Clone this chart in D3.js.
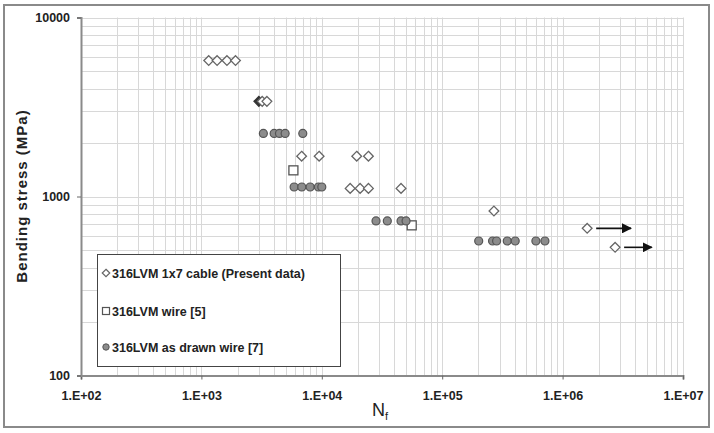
<!DOCTYPE html>
<html lang="en">
<head>
<meta charset="UTF-8">
<title>Bending stress vs Nf</title>
<script src="https://cdn.jsdelivr.net/npm/d3@7"></script>
<style>
  body { margin: 0; background: #fff; }
  text { font-family: Arial, "Liberation Sans", sans-serif; }
</style>
</head>
<body>
<script>
// 316LVM 1x7 cable (present data) - diamonds
const cableN = [1150, 1350, 1630, 1920, 3200, 3500, 6800, 9500, 19500, 24400,
                17200, 20800, 24400, 45500, 269000, 1600000, 2730000];
const cableS = [5750, 5750, 5750, 5750, 3400, 3400, 1680, 1680, 1680, 1680,
                1110, 1110, 1110, 1110, 830, 664, 520];
// the half-hidden dark diamond next to the 3400 MPa pair
const cableDarkN = [3000];
const cableDarkS = [3400];
// 316LVM wire [5] - squares
const wireN = [5810, 55800];
const wireS = [1400, 690];
// 316LVM as drawn wire [7] - grey circles
const drawnN = [3270, 4020, 4450, 4960, 6950, 5890, 6820, 8000, 9370, 10000,
                28200, 35000, 45500, 50100, 201000, 262000, 283000, 347000, 404000, 600000, 713000];
const drawnS = [2250, 2250, 2250, 2250, 2250, 1130, 1130, 1130, 1130, 1130,
                730, 730, 730, 730, 564, 564, 564, 564, 564, 564, 564];
// run-out arrows (from N to N, at stress)
const arrowFrom = [1600000, 2730000];
const arrowTo = [3700000, 5500000];
const arrowS = [664, 520];

const xTicks = [1e2, 1e3, 1e4, 1e5, 1e6, 1e7];
const yTicks = [100, 1000, 10000];
const legendLabels = ["316LVM 1x7 cable (Present data)", "316LVM wire [5]", "316LVM as drawn wire [7]"];

const W = 714, H = 433;
const svg = d3.select("body").append("svg").attr("width", W).attr("height", H);

// outer frame
svg.append("rect").attr("x", 4).attr("y", 5).attr("width", 705).attr("height", 422)
  .attr("fill", "#fff").attr("stroke", "#8a8a8a").attr("stroke-width", 2);

const x = d3.scaleLog().domain([1e2, 1e7]).range([81, 683]);
const y = d3.scaleLog().domain([100, 10000]).range([375.5, 17.5]);

// grid at every minor step
const gx = [], gy = [];
for (let d = 100; d < 1e7; d *= 10) for (let k = 1; k <= 9; k++) gx.push(d * k);
gx.push(1e7);
for (let d = 100; d < 10000; d *= 10) for (let k = 1; k <= 9; k++) gy.push(d * k);
gy.push(10000);

const grid = svg.append("g").attr("stroke", "#d8d8d8").attr("stroke-width", 1);
grid.selectAll("line.v").data(gx).enter().append("line")
  .attr("x1", d => Math.round(x(d)) + 0.5).attr("x2", d => Math.round(x(d)) + 0.5)
  .attr("y1", y(10000)).attr("y2", y(100));
grid.selectAll("line.h").data(gy).enter().append("line")
  .attr("y1", d => Math.round(y(d)) + 0.5).attr("y2", d => Math.round(y(d)) + 0.5)
  .attr("x1", x(1e2)).attr("x2", x(1e7));

// axes
const xAxis = d3.axisBottom(x).tickValues(xTicks).tickSize(4).tickPadding(12)
  .tickFormat(d => "1.E+" + String(Math.round(Math.log10(d))).padStart(2, "0"));
const yAxis = d3.axisLeft(y).tickValues(yTicks).tickSize(4).tickPadding(7).tickFormat(d3.format("d"));

const gX = svg.append("g").attr("transform", `translate(0,${y(100)})`).call(xAxis);
const gY = svg.append("g").attr("transform", `translate(${x(1e2)},0)`).call(yAxis);
[gX, gY].forEach(g => {
  g.select(".domain").attr("stroke", "#8a8a8a").attr("stroke-width", 2);
  g.selectAll(".tick line").attr("stroke", "#666");
  g.selectAll(".tick text").attr("font-size", 12.5).attr("font-weight", "bold").attr("fill", "#222")
    .attr("font-family", "Arial, 'Liberation Sans', sans-serif");
});

// axis titles
svg.append("text").attr("transform", "translate(27,196) rotate(-90)")
  .attr("text-anchor", "middle").attr("font-size", 15).attr("font-weight", "bold").attr("fill", "#222")
  .attr("letter-spacing", 1)
  .text("Bending stress  (MPa)");
const nf = svg.append("text").attr("x", 380).attr("y", 416).attr("text-anchor", "middle")
  .attr("font-size", 18).attr("fill", "#222");
nf.append("tspan").text("N");
nf.append("tspan").attr("font-size", 11).attr("dy", 4).text("f");

// marker helpers
const diamond = d3.symbol().type(d3.symbolDiamond2).size(60);
function drawDiamonds(ns, ss, fill, stroke) {
  svg.append("g").selectAll("path").data(ns).enter().append("path")
    .attr("d", diamond)
    .attr("transform", (d, i) => `translate(${x(d)},${y(ss[i])})`)
    .attr("fill", fill).attr("stroke", stroke).attr("stroke-width", 1.3);
}

drawDiamonds(cableDarkN, cableDarkS, "#333", "#333");

svg.append("g").selectAll("rect").data(wireN).enter().append("rect")
  .attr("x", d => x(d) - 4.5).attr("y", (d, i) => y(wireS[i]) - 4.5)
  .attr("width", 9).attr("height", 9)
  .attr("fill", "#fff").attr("stroke", "#555").attr("stroke-width", 1.3);

svg.append("g").selectAll("circle").data(drawnN).enter().append("circle")
  .attr("cx", d => x(d)).attr("cy", (d, i) => y(drawnS[i])).attr("r", 4)
  .attr("fill", "#8c8c8c").attr("stroke", "#555").attr("stroke-width", 1.2);

drawDiamonds(cableN, cableS, "#fff", "#666");

// run-out arrows
svg.append("defs").append("marker").attr("id", "head")
  .attr("viewBox", "0 0 10 10").attr("refX", 9).attr("refY", 5)
  .attr("markerWidth", 10).attr("markerHeight", 10).attr("markerUnits", "userSpaceOnUse")
  .attr("orient", "auto")
  .append("path").attr("d", "M0,0L10,5L0,10Z").attr("fill", "#111");
svg.append("g").selectAll("line").data(arrowFrom).enter().append("line")
  .attr("x1", d => x(d) + 9).attr("x2", (d, i) => x(arrowTo[i]))
  .attr("y1", (d, i) => y(arrowS[i])).attr("y2", (d, i) => y(arrowS[i]))
  .attr("stroke", "#111").attr("stroke-width", 1.6).attr("marker-end", "url(#head)");

// legend
const lg = svg.append("g");
lg.append("rect").attr("x", 97.5).attr("y", 254.5).attr("width", 243).attr("height", 112)
  .attr("fill", "#fff").attr("stroke", "#444").attr("stroke-width", 1);
const rows = [273, 311, 347];
lg.append("path").attr("d", d3.symbol().type(d3.symbolDiamond2).size(36))
  .attr("transform", `translate(106,${rows[0]})`).attr("fill", "#fff").attr("stroke", "#666").attr("stroke-width", 1.2);
lg.append("rect").attr("x", 102.5).attr("y", rows[1] - 3.5).attr("width", 7).attr("height", 7)
  .attr("fill", "#fff").attr("stroke", "#555").attr("stroke-width", 1.2);
lg.append("circle").attr("cx", 106).attr("cy", rows[2]).attr("r", 3.2)
  .attr("fill", "#8c8c8c").attr("stroke", "#555");
lg.selectAll("text").data(legendLabels).enter().append("text")
  .attr("x", 112).attr("y", (d, i) => rows[i] + 4.5)
  .attr("font-size", 12.5).attr("font-weight", "bold").attr("fill", "#222")
  .text(d => d);
</script>
</body>
</html>
